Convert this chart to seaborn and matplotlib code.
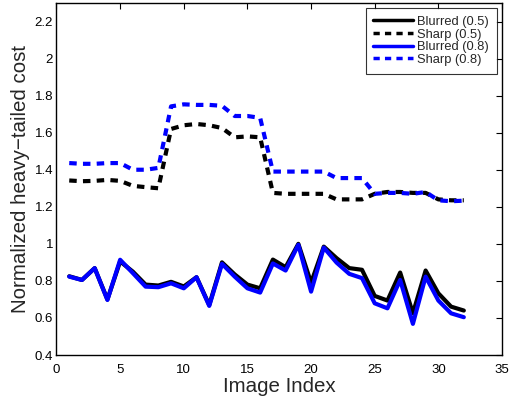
import numpy as np
import pandas as pd
import matplotlib
matplotlib.use("Agg")
import matplotlib.pyplot as plt
import seaborn as sns

image_index = list(range(1, 33))

blurred_05 = [0.825, 0.805, 0.869, 0.70, 0.905, 0.85, 0.78, 0.775, 0.795, 0.77,
              0.82, 0.67, 0.90, 0.835, 0.78, 0.76, 0.915, 0.874, 1.0, 0.79,
              0.985, 0.923, 0.869, 0.86, 0.719, 0.694, 0.845, 0.625, 0.856, 0.733,
              0.661, 0.64]
sharp_05 = [1.342, 1.338, 1.34, 1.345, 1.34, 1.313, 1.306, 1.30, 1.62, 1.64,
            1.647, 1.64, 1.625, 1.575, 1.58, 1.575, 1.275, 1.27, 1.27, 1.27,
            1.27, 1.24, 1.24, 1.24, 1.27, 1.28, 1.28, 1.275, 1.275, 1.24,
            1.235, 1.235]
blurred_08 = [0.823, 0.805, 0.869, 0.697, 0.914, 0.842, 0.769, 0.766, 0.787, 0.76,
              0.82, 0.665, 0.892, 0.823, 0.76, 0.737, 0.894, 0.856, 0.995, 0.742,
              0.98, 0.899, 0.838, 0.815, 0.679, 0.652, 0.805, 0.568, 0.823, 0.694,
              0.625, 0.604]
sharp_08 = [1.436, 1.432, 1.432, 1.436, 1.436, 1.40, 1.40, 1.41, 1.742, 1.753,
            1.75, 1.75, 1.745, 1.69, 1.69, 1.68, 1.39, 1.39, 1.39, 1.39,
            1.39, 1.355, 1.355, 1.355, 1.27, 1.275, 1.275, 1.27, 1.28, 1.235,
            1.23, 1.233]

series = [("Blurred (0.5)", blurred_05, "black", "-"),
          ("Sharp (0.5)", sharp_05, "black", "--"),
          ("Blurred (0.8)", blurred_08, "blue", "-"),
          ("Sharp (0.8)", sharp_08, "blue", "--")]

sns.set_style("white")
plt.rcParams['font.family'] = ['Liberation Sans', 'DejaVu Sans']

fig = plt.figure(figsize=(5.1, 3.96), dpi=100)
# axes box: x 56.5..502 px, y 3..355 px
ax = fig.add_axes([56.5 / 510, 41 / 396, 445.5 / 510, 352 / 396])

for name, vals, color, ls in series:
    df = pd.DataFrame({"x": image_index, "y": vals})
    sns.lineplot(data=df, x="x", y="y", ax=ax, color=color, linewidth=3,
                 label=name)
    if ls == "--":
        ax.lines[-1].set_dashes((1.8, 1.5))

ax.set_xlim(0, 35)
ax.set_ylim(0.4, 2.3)
ax.set_xticks(np.arange(0, 36, 5))
ax.set_yticks([0.4, 0.6, 0.8, 1, 1.2, 1.4, 1.6, 1.8, 2, 2.2])
ax.set_yticklabels(["0.4", "0.6", "0.8", "1", "1.2", "1.4", "1.6", "1.8", "2", "2.2"])
ax.tick_params(direction="in", top=True, right=True, length=4, width=0.8,
               labelsize=9.5, colors="black")
ax.tick_params(axis="x", pad=6.5)
ax.tick_params(axis="y", pad=2.5)
for s in ax.spines.values():
    s.set_color("black")
    s.set_linewidth(1.0)

ax.set_xlabel("Image Index", fontsize=14.8, labelpad=1)
ax.set_ylabel("Normalized heavy\u2212tailed cost", fontsize=14.8, labelpad=3)

leg = ax.legend(loc="upper right", fontsize=9.3, frameon=True, fancybox=False,
                borderaxespad=0.4, handlelength=3.1, handletextpad=0.3,
                labelspacing=0.05, borderpad=0.6)
leg.get_frame().set_edgecolor("black")
leg.get_frame().set_linewidth(0.8)
for h in leg.get_lines():
    h.set_linewidth(2.5)

fig.savefig("out.png", dpi=100)
